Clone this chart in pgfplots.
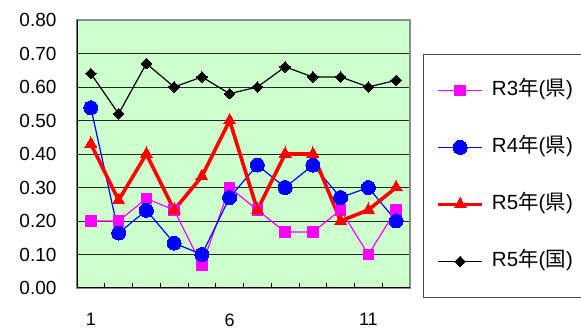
\documentclass[border=0pt]{standalone}
\usepackage{pgfplots}
\pgfplotsset{compat=1.18}
\usepackage{fontspec}
\setmainfont{Liberation Sans}
\newfontfamily\jp{Noto Sans CJK JP}
\definecolor{bggreen}{HTML}{CCFFCC}
\definecolor{mag}{HTML}{FF00FF}
\begin{document}
\begin{tikzpicture}
\begin{axis}[
  at={(0,0)}, anchor=south west,
  scale only axis, width=333pt, height=268pt,
  xmin=0.5, xmax=12.5, ymin=0, ymax=0.8,
  axis background/.style={fill=bggreen},
  axis line style={draw=black!45, line width=1.2pt},
  xtick={1,6,11},
  minor xtick={1.5,2.5,...,11.5},
  xtick pos=bottom, ytick pos=left,
  tick align=inside,
  major tick length=0pt,
  minor tick length=5pt,
  every minor tick/.style={black, line width=0.8pt},
  ytick={0,0.1,...,0.8},
  ymajorgrids,
  major grid style={black!85, line width=0.8pt},
  /pgf/number format/assume math mode=true,
  yticklabel style={/pgf/number format/fixed, /pgf/number format/zerofill, /pgf/number format/precision=2, font=\fontsize{19}{19}\selectfont, xshift=-17pt},
  xticklabel style={font=\fontsize{18}{18}\selectfont, yshift=-22pt},
  legend style={at={(1.039,0.873)}, anchor=north west, draw=black!70, line width=0.8pt, fill=white,
    inner xsep=13pt, inner ysep=26pt, row sep=37pt,
    font=\fontsize{20.5}{20.5}\selectfont,
    nodes={inner sep=0pt, text height=15pt, text depth=5pt, anchor=west},
    column sep=8pt},
  legend cell align=left,
  legend image code/.code={\draw[mark repeat=2, mark phase=2] plot coordinates {(0pt,0pt) (22pt,0pt) (44pt,0pt)};},
]
\addplot[mag, line width=1.2pt, mark=square*, mark size=5.3pt, mark options={solid, fill=mag, draw=mag, line width=0pt}]
  coordinates {(1,0.200) (2,0.200) (3,0.267) (4,0.233) (5,0.067) (6,0.300) (7,0.233) (8,0.167) (9,0.167) (10,0.233) (11,0.100) (12,0.233)};
\addlegendentry{R3{\jp 年}(\jp 県\rmfamily)}
\addplot[blue, line width=1.2pt, mark=*, mark size=7pt, mark options={solid, fill=blue, draw=blue, line width=0pt}]
  coordinates {(1,0.538) (2,0.164) (3,0.232) (4,0.134) (5,0.100) (6,0.270) (7,0.367) (8,0.300) (9,0.367) (10,0.270) (11,0.300) (12,0.200)};
\addlegendentry{R4{\jp 年}(\jp 県\rmfamily)}
\addplot[red, line width=3.6pt, mark=triangle*, mark size=7pt, mark options={solid, fill=red, draw=red, line width=0pt}]
  coordinates {(1,0.430) (2,0.262) (3,0.400) (4,0.233) (5,0.333) (6,0.500) (7,0.233) (8,0.400) (9,0.400) (10,0.200) (11,0.233) (12,0.300)};
\addlegendentry{R5{\jp 年}(\jp 県\rmfamily)}
\addplot[black, line width=1.2pt, mark=square*, mark size=3.7pt, mark options={solid, rotate=45, fill=black, draw=black, line width=0pt}]
  coordinates {(1,0.640) (2,0.520) (3,0.670) (4,0.600) (5,0.630) (6,0.580) (7,0.600) (8,0.660) (9,0.630) (10,0.630) (11,0.600) (12,0.620)};
\addlegendentry{R5{\jp 年}(\jp 国\rmfamily)}
\draw[black, line width=1.6pt] (rel axis cs:0,1) -- (rel axis cs:0,0) -- (rel axis cs:1,0);
\end{axis}
\pgfresetboundingbox
\path[use as bounding box] (-77pt,-43pt) rectangle (504pt,288pt);
\end{tikzpicture}
\end{document}
